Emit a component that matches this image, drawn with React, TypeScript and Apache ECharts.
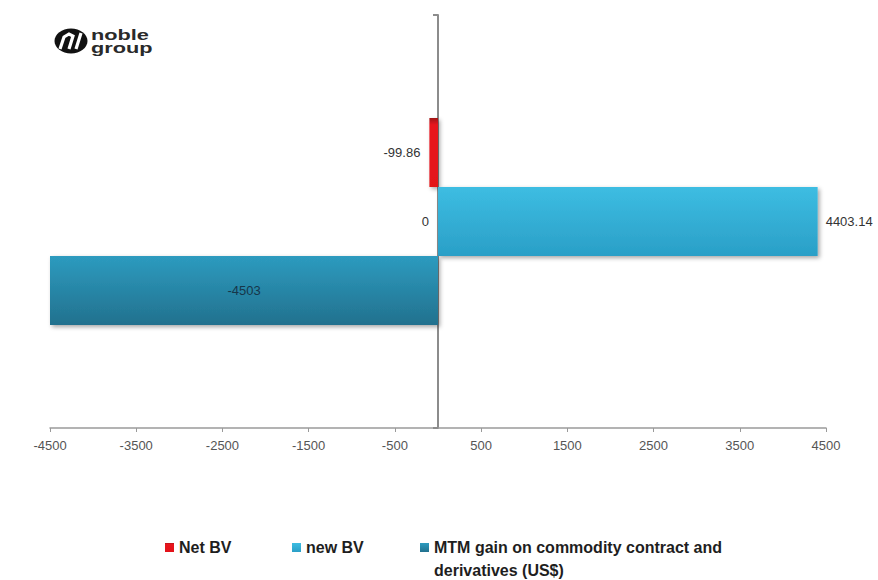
import React, { useEffect, useRef } from 'react';
import * as echarts from 'echarts';

const categories = ['0'];
const seriesNames = ['Net BV', 'new BV', 'MTM gain on commodity contract and\nderivatives (US$)'];
const netBV = [-99.86];
const newBV = [4403.14];
const mtmGain = [-4503];
const xTickValues = [-4500, -3500, -2500, -1500, -500, 500, 1500, 2500, 3500, 4500];
const xTickLabels = ['-4500', '-3500', '-2500', '-1500', '-500', '500', '1500', '2500', '3500', '4500'];

const FONT = '"Liberation Sans", Arial, sans-serif';

export default function App() {
  const ref = useRef<HTMLDivElement>(null);
  useEffect(() => {
    const chart = echarts.init(ref.current!, null, { renderer: 'svg' });
    const grad = (stops: [number, string][]) =>
      new echarts.graphic.LinearGradient(0, 0, 0, 1, stops.map(([offset, color]) => ({ offset, color })));
    const shadow = { shadowColor: 'rgba(0,0,0,0.35)', shadowBlur: 4, shadowOffsetX: 2, shadowOffsetY: 2 };
    const labelBase = { fontFamily: FONT, fontSize: 13, color: '#333' };
    chart.setOption({
      animation: false,
      backgroundColor: '#ffffff',
      grid: { left: 50, right: 52, top: 15, bottom: 152, containLabel: false },
      xAxis: {
        type: 'value',
        min: -4500,
        max: 4500,
        axisLine: { show: true, onZero: false, lineStyle: { color: '#9a9a9a', width: 1.5 } },
        axisTick: { show: true, inside: false, length: 4, customValues: xTickValues, lineStyle: { color: '#9a9a9a' } },
        axisLabel: {
          customValues: xTickValues,
          formatter: (v: number) => xTickLabels[xTickValues.indexOf(v)] ?? '',
          color: '#555',
          fontSize: 13,
          margin: 11,
          fontFamily: FONT,
        },
        splitLine: { show: false },
      },
      yAxis: {
        type: 'category',
        data: categories,
        axisLine: { show: true, onZero: true, lineStyle: { color: '#8c8c8c', width: 2 } },
        axisTick: { show: true, length: 5, lineStyle: { color: '#8c8c8c', width: 2 } },
        axisLabel: { color: '#333', fontSize: 13, margin: -379, fontFamily: FONT },
      },
      legend: {
        left: 165,
        top: 513,
        padding: 0,
        orient: 'horizontal',
        itemWidth: 9,
        itemHeight: 9,
        itemGap: 0,
        icon: 'rect',
        formatter: (name: string) => (name === seriesNames[2] ? ' \n' + name : name),
        textStyle: { fontFamily: FONT, fontSize: 16, fontWeight: 'bold', color: '#1e1e1e', lineHeight: 23 },
        data: [
          { name: seriesNames[0], textStyle: { width: 113 } },
          { name: seriesNames[1], textStyle: { width: 114 } },
          { name: seriesNames[2] },
        ],
      },
      graphic: [
        { type: 'ellipse', shape: { cx: 71, cy: 41, rx: 16.5, ry: 12.5 }, style: { fill: '#111' } },
        {
          type: 'polyline',
          shape: { points: [[60, 49], [64, 37], [69, 34], [73, 36], [69, 49]] },
          style: { stroke: '#fff', lineWidth: 3.2, fill: null },
        },
        { type: 'line', shape: { x1: 76, y1: 49, x2: 81, y2: 33 }, style: { stroke: '#fff', lineWidth: 3.2 } },
        {
          type: 'text',
          x: 91,
          y: 35,
          scaleX: 1.45,
          style: { text: 'noble', font: 'bold 15px "Liberation Sans", Arial, sans-serif', fill: '#2a2a2a', verticalAlign: 'middle', lineHeight: 12 },
        },
        {
          type: 'text',
          x: 91,
          y: 47.5,
          scaleX: 1.45,
          style: { text: 'group', font: 'bold 15px "Liberation Sans", Arial, sans-serif', fill: '#2a2a2a', verticalAlign: 'middle', lineHeight: 12 },
        },
      ],
      series: [
        {
          name: seriesNames[0],
          type: 'bar',
          data: netBV,
          barWidth: 69,
          barGap: '0%',
          itemStyle: { color: grad([[0, '#9e1217'], [0.1, '#e8161e'], [1, '#e31219']]), ...shadow },
          label: { show: true, position: 'left', distance: 9, ...labelBase },
        },
        {
          name: seriesNames[1],
          type: 'bar',
          data: newBV,
          barWidth: 69,
          barGap: '0%',
          itemStyle: { color: grad([[0, '#3dbde2'], [1, '#2a9fc7']]), ...shadow },
          label: { show: true, position: 'right', distance: 8, ...labelBase },
        },
        {
          name: seriesNames[2],
          type: 'bar',
          data: mtmGain,
          barWidth: 69,
          barGap: '0%',
          itemStyle: { color: grad([[0, '#2d9bbf'], [1, '#22718e']]), ...shadow },
          label: { show: true, position: 'inside', ...labelBase, color: '#17364a' },
        },
      ],
    });
    return () => chart.dispose();
  }, []);
  return <div ref={ref} style={{ width: 878, height: 580, position: 'absolute', left: 0, top: 0 }} />;
}
